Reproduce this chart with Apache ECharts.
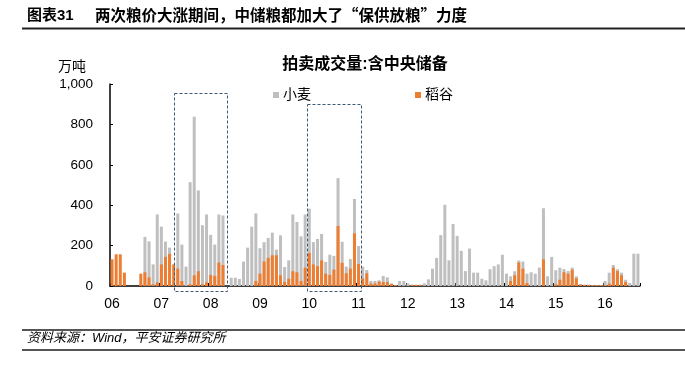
<!DOCTYPE html>
<html>
<head>
<meta charset="utf-8">
<title>拍卖成交量</title>
<script src="https://cdn.jsdelivr.net/npm/echarts@6/dist/echarts.min.js"></script>
<style>
  html, body { margin: 0; padding: 0; background: #fff; }
  #root { width: 685px; height: 369px; }
</style>
</head>
<body>
<div id="root"></div>
<script>
// 月度数据 2006-01 ~ 2016-09，单位：万吨
var years = ['06', '07', '08', '09', '10', '11', '12', '13', '14', '15', '16'];
var yTicks = [0, 200, 400, 600, 800, 1000];

// 小麦 (柱顶高度)
var wheat = [
  0, 0, 0, 0, 0, 0, 0, 0, 243, 221, 107, 354,          // 2006
  294, 220, 190, 0, 359, 205, 96, 514, 838, 473, 301, 354, // 2007
  253, 205, 354, 349, 0, 41, 41, 35, 121, 190, 294, 359,   // 2008
  187, 217, 238, 264, 180, 251, 94, 127, 354, 317, 246, 354, // 2009
  383, 217, 233, 258, 119, 155, 149, 534, 219, 96, 133, 431, // 2010
  198, 96, 79, 25, 25, 28, 50, 43, 13, 5, 25, 25,          // 2011
  13, 7, 7, 7, 13, 33, 86, 139, 252, 402, 127, 307,        // 2012
  248, 174, 74, 185, 66, 66, 36, 28, 83, 98, 107, 155,     // 2013
  61, 48, 73, 126, 121, 61, 68, 61, 91, 385, 48, 144,      // 2014
  78, 91, 84, 74, 91, 48, 8, 7, 7, 5, 5, 5,                // 2015
  25, 66, 104, 83, 66, 31, 15, 160, 160                    // 2016
];
// 稻谷
var rice = [
  132, 157, 157, 66, 0, 0, 0, 61, 68, 43, 8, 18,
  107, 144, 159, 107, 86, 25, 0, 8, 53, 73, 8, 18,
  55, 50, 116, 104, 0, 0, 0, 0, 0, 0, 0, 25,
  61, 121, 139, 152, 152, 53, 20, 36, 73, 68, 25, 91,
  164, 107, 98, 127, 61, 55, 81, 297, 115, 63, 86, 261,
  109, 38, 63, 13, 13, 22, 20, 20, 10, 5, 0, 0,
  0, 5, 5, 5, 0, 0, 0, 0, 0, 0, 0, 0,
  0, 0, 0, 0, 0, 0, 0, 0, 0, 0, 0, 0,
  0, 25, 53, 116, 86, 15, 0, 0, 0, 132, 0, 0,
  8, 31, 68, 61, 81, 38, 8, 5, 5, 4, 4, 4,
  3, 12, 91, 74, 53, 20, 0, 0, 0
];

var months = [];
for (var i = 0; i < wheat.length; i++) {
  months.push('20' + years[Math.floor(i / 12)] + '-' + ('0' + (i % 12 + 1)).slice(-2));
}

var FONT = "'Liberation Sans', 'Noto Sans CJK SC', sans-serif";
var myChart = echarts.init(document.getElementById('root'));

var option = {
  animation: false,
  textStyle: { fontFamily: FONT },
  title: [{
    text: '拍卖成交量:含中央储备',
    left: 360, top: 52, textAlign: 'center',
    textStyle: { fontSize: 16, fontWeight: 'bold', color: '#000', fontFamily: FONT }
  }, {
    text: '万吨',
    left: 53, top: 55,
    textStyle: { fontSize: 14, fontWeight: 'normal', color: '#000', fontFamily: FONT }
  }],
  legend: {
    data: ['小麦', '稻谷'],
    left: 268, top: 83,
    icon: 'rect', itemWidth: 6, itemHeight: 6, itemGap: 104,
    textStyle: { fontSize: 14, color: '#000', fontFamily: FONT, padding: [0, 0, 0, -1] }
  },
  grid: { left: 110, top: 84, width: 530, height: 202, containLabel: false },
  xAxis: {
    type: 'category',
    data: months,
    boundaryGap: true,
    axisLine: { lineStyle: { color: '#000', width: 1.5 } },
    axisTick: { show: true, inside: true, interval: 11, length: 3, lineStyle: { color: '#000' } },
    axisLabel: {
      interval: 11, margin: 11, fontSize: 14, color: '#000',
      formatter: function (v) { return v.slice(2, 4); }
    },
    splitLine: { show: false }
  },
  yAxis: {
    type: 'value',
    min: yTicks[0], max: yTicks[yTicks.length - 1], interval: 200,
    axisLine: { show: true, lineStyle: { color: '#000', width: 1.5 } },
    axisTick: { show: true, inside: true, length: 3, lineStyle: { color: '#000' } },
    axisLabel: {
      margin: 17, fontSize: 13.5, color: '#000',
      formatter: function (v) { return v.toLocaleString('en-US'); }
    },
    splitLine: { show: false }
  },
  series: [{
    name: '小麦',
    type: 'bar',
    data: wheat,
    barWidth: 3,
    barGap: '-100%',
    itemStyle: { color: '#BFBFBF' }
  }, {
    name: '稻谷',
    type: 'bar',
    data: rice,
    barWidth: 3,
    barGap: '-100%',
    itemStyle: { color: '#ED7D31' }
  }]
};
myChart.setOption(option);

// 虚线框：两次粮价大涨期间（按月份格位定位）
function boxRect(fromSlot, toSlot, topVal) {
  var c0 = myChart.convertToPixel({ xAxisIndex: 0 }, months[0]);
  var slot = myChart.convertToPixel({ xAxisIndex: 0 }, months[1]) - c0;
  var x0 = c0 - slot / 2;
  var x1 = x0 + fromSlot * slot;
  var x2 = x0 + toSlot * slot;
  var y1 = myChart.convertToPixel({ yAxisIndex: 0 }, topVal);
  var y2 = myChart.convertToPixel({ yAxisIndex: 0 }, 0) + 5;
  return {
    type: 'rect', z: 100,
    shape: { x: Math.round(x1) + 0.5, y: Math.round(y1) + 0.5, width: Math.round(x2 - x1), height: Math.round(y2 - y1) },
    style: { fill: 'none', stroke: '#3E5877', lineWidth: 1, lineDash: [3, 2] }
  };
}

myChart.setOption({
  graphic: [
    {
      type: 'text', left: 27, top: 8,
      style: { text: '图表31', font: "bold 15px 'Liberation Sans', 'Noto Sans CJK SC', sans-serif", fill: '#000' }
    },
    {
      type: 'text', left: 95, top: 7.5,
      style: { text: '两次粮价大涨期间，中储粮都加大了“保供放粮”力度', font: "bold 15.5px 'Noto Sans CJK SC', sans-serif", fill: '#000' }
    },
    { type: 'line', shape: { x1: 22, y1: 28.5, x2: 685, y2: 28.5 }, style: { stroke: '#222', lineWidth: 2 } },
    { type: 'line', shape: { x1: 22, y1: 330, x2: 685, y2: 330 }, style: { stroke: '#555', lineWidth: 2 } },
    { type: 'line', shape: { x1: 22, y1: 350, x2: 685, y2: 350 }, style: { stroke: '#555', lineWidth: 2 } },
    {
      type: 'text', left: 27, top: 332,
      style: { text: '资料来源：Wind，平安证券研究所', font: "italic 13px 'Liberation Sans', 'Noto Sans CJK SC', sans-serif", fill: '#000' }
    },
    boxRect(15.6, 28.4, 954),
    boxRect(48.0, 61.25, 900)
  ]
});
</script>
</body>
</html>
